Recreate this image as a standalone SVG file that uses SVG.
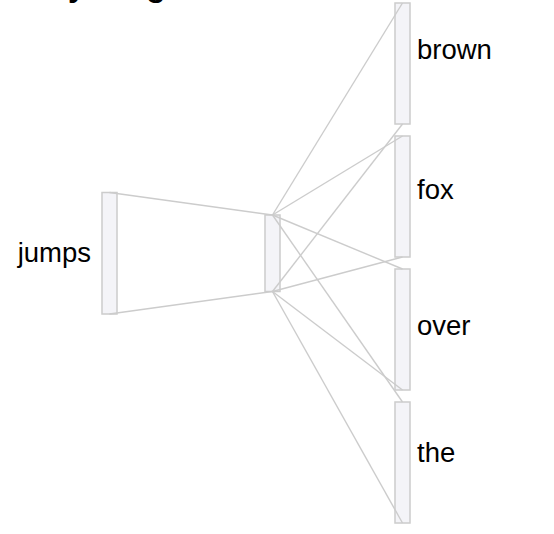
<svg xmlns="http://www.w3.org/2000/svg" width="554" height="534" viewBox="0 0 554 534">
<style>
.bar{fill:#f4f4f8;stroke:#cccccc;stroke-width:1.5}
.lbl{font-family:"Liberation Sans",Arial,sans-serif;font-size:27.5px;fill:#000}
.ttl{font-family:"Liberation Sans",Arial,sans-serif;font-size:32px;font-weight:bold;fill:#000}
#connectors line{stroke:#cccccc;stroke-width:1.4}
</style>
<rect width="554" height="534" fill="#ffffff"/>
<text class="ttl" x="-3" y="-4.5">Study weights</text>
<g id="node-jumps">
<rect class="bar" x="102" y="192.5" width="15" height="121.5"/>
<text class="lbl" x="91" y="262" text-anchor="end">jumps</text>
</g>
<g id="node-mid">
<rect class="bar" x="265" y="215" width="15" height="76.5"/>
</g>
<g id="node-brown">
<rect class="bar" x="395" y="3" width="15" height="121"/>
<text class="lbl" x="417" y="59">brown</text>
</g>
<g id="node-fox">
<rect class="bar" x="395" y="136" width="15" height="121"/>
<text class="lbl" x="417" y="199">fox</text>
</g>
<g id="node-over">
<rect class="bar" x="395" y="269" width="15" height="121"/>
<text class="lbl" x="417" y="335">over</text>
</g>
<g id="node-the">
<rect class="bar" x="395" y="402" width="15" height="121"/>
<text class="lbl" x="417" y="462">the</text>
</g>
<g id="connectors">
<line x1="109.5" y1="192.5" x2="272.5" y2="215"/>
<line x1="109.5" y1="314" x2="272.5" y2="291.5"/>
<line x1="272.5" y1="215" x2="402.5" y2="3"/>
<line x1="272.5" y1="215" x2="402.5" y2="136"/>
<line x1="272.5" y1="215" x2="402.5" y2="269"/>
<line x1="272.5" y1="215" x2="402.5" y2="402"/>
<line x1="272.5" y1="291.5" x2="402.5" y2="124"/>
<line x1="272.5" y1="291.5" x2="402.5" y2="257"/>
<line x1="272.5" y1="291.5" x2="402.5" y2="390"/>
<line x1="272.5" y1="291.5" x2="402.5" y2="523"/>
</g>
</svg>
